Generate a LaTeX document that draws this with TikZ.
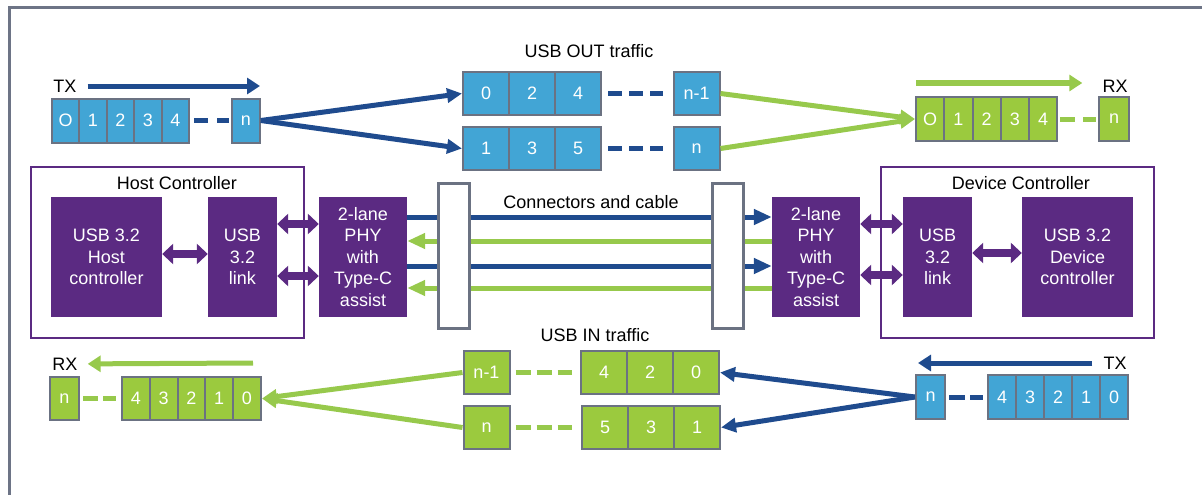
\documentclass[tikz,border=0pt]{standalone}
\usepackage{fontspec}
\setmainfont{Liberation Sans}
\usetikzlibrary{arrows.meta}

\definecolor{cellblue}{HTML}{42A5D5}
\definecolor{cellgreen}{HTML}{9BCA3E}
\definecolor{cellgray}{HTML}{6B7282}
\definecolor{linkblue}{HTML}{1F4B8E}
\definecolor{linkgreen}{HTML}{97C94C}
\definecolor{usbpurple}{HTML}{5B2A82}
\definecolor{framegray}{HTML}{6D7486}

\begin{document}
\begin{tikzpicture}[x=1pt, y=-1pt,
    txt/.style={font=\fontsize{18}{21.5}\selectfont, inner sep=0pt},
    cell/.style={txt, draw=cellgray, line width=2pt, text=white},
    bcell/.style={cell, fill=cellblue},
    gcell/.style={cell, fill=cellgreen},
    small/.style={minimum width=27.5pt, minimum height=44pt},
    wide/.style={minimum width=46pt, minimum height=43pt},
    pbox/.style={txt, fill=usbpurple, text=white, align=center, minimum height=120pt},
    ctrl/.style={draw=usbpurple, line width=2pt},
    plug/.style={draw=cellgray, line width=3pt, fill=white},
    bline/.style={draw=linkblue, line width=5pt},
    gline/.style={draw=linkgreen, line width=5pt},
    bdash/.style={bline, dash pattern=on 14pt off 7pt},
    gdash/.style={gline, dash pattern=on 14pt off 7pt},
    tip/.style={-{Triangle[length=15pt,width=14pt]}},
    dbl/.style={usbpurple, line width=8pt,
        {Triangle[length=11pt,width=20pt]}-{Triangle[length=11pt,width=20pt]}}]

    \useasboundingbox (0,0) rectangle (1202,495);
    \draw [framegray, line width=3pt] (9,495) -- (9,7.5) -- (1202,7.5);

    % USB OUT traffic
    \node [txt] (outlbl) at (589,51) {USB OUT traffic};
    \node [txt] (txlbl) at (65,86) {TX};
    \coordinate (txend) at (260,86);
    \draw [bline, -{Triangle[length=13pt,width=16pt]}, shorten <=11pt] (txlbl) -- (txend);
    \foreach \t [count=\i] in {O,1,2,3,4}
        \node [bcell, small] (tx\i) at ({38+27.5*\i},120.5) {\t};
    \node [bcell, small] (txn) at (246,120.5) {n};
    \draw [bdash, dash pattern=on 14pt off 9pt, shorten <=4pt, shorten >=2pt] (tx5.east) -- (txn.west);

    \foreach \t [count=\i] in {0,2,4}
        \node [bcell, wide] (outa\i) at ({440+46*\i},93.5) {\t};
    \node [bcell, wide] (outan) at (696.5,93.5) {n-1};
    \foreach \t [count=\i] in {1,3,5}
        \node [bcell, wide] (outb\i) at ({440+46*\i},148.5) {\t};
    \node [bcell, wide] (outbn) at (696.5,148.5) {n};
    \draw [bdash, shorten <=6pt, shorten >=10pt] (outa3.east) -- (outan.west);
    \draw [bdash, shorten <=6pt, shorten >=10pt] (outb3.east) -- (outbn.west);

    \node [txt] (rxlbl) at (1115,86) {RX};
    \coordinate (rxstart) at (916,83);
    \draw [gline, -{Triangle[length=13pt,width=16pt]}, shorten >=20pt] (rxstart) -- (rxlbl.west |- rxstart);
    \foreach \t [count=\i] in {O,1,2,3,4}
        \node [gcell, small, minimum width=28.2pt] (rx\i) at ({902+28.2*\i},119) {\t};
    \node [gcell, small, minimum width=30pt] (rxn) at (1114,119) {n};
    \draw [gdash, dash pattern=on 15pt off 8pt, shorten <=2pt, shorten >=2pt] (rx5.east) -- (rxn.west);

    \draw [bline, tip] (txn.east) -- (outa1.west);
    \draw [bline, tip] (txn.east) -- (outb1.west);
    \draw [gline, tip] (outan.east) -- (rx1.west);
    \draw [gline, tip] (outbn.east) -- (rx1.west);

    % host and device side
    \draw [ctrl] (31,167) rectangle (304,338);
    \draw [ctrl] (881,167) rectangle (1154,338);
    \node [txt] (hostlbl) at (177,183) {Host Controller};
    \node [txt] (devlbl) at (1021,183) {Device Controller};

    \node [pbox, minimum width=111pt] (hostctl) at (106.5,257) {USB 3.2\\Host\\controller};
    \node [pbox, minimum width=69pt] (hostlink) at (242.5,257) {USB\\3.2\\link};
    \node [pbox, minimum width=88pt] (hostphy) at (363,257) {2-lane\\PHY\\with\\Type-C\\assist};
    \node [pbox, minimum width=88pt] (devphy) at (816,257) {2-lane\\PHY\\with\\Type-C\\assist};
    \node [pbox, minimum width=69pt] (devlink) at (937.5,257) {USB\\3.2\\link};
    \node [pbox, minimum width=111pt] (devctl) at (1077.5,257) {USB 3.2\\Device\\controller};

    \draw [dbl] ([yshift=3pt]hostctl.east) -- ([yshift=3pt]hostlink.west);
    \draw [dbl] ([yshift=33pt]hostlink.east) -- ([yshift=33pt]hostphy.west);
    \draw [dbl] ([yshift=-19pt]hostlink.east) -- ([yshift=-19pt]hostphy.west);
    \draw [dbl] ([yshift=33pt]devphy.east) -- ([yshift=33pt]devlink.west);
    \draw [dbl] ([yshift=-18pt]devphy.east) -- ([yshift=-18pt]devlink.west);
    \draw [dbl] ([yshift=4pt]devlink.east) -- ([yshift=4pt]devctl.west);

    % connectors and cable
    \draw [bline, -{Triangle[length=18pt,width=15pt]}] ([yshift=40pt]hostphy.east) -- ([yshift=40pt]devphy.west);
    \draw [gline, -{Triangle[length=18pt,width=15pt]}] ([yshift=16pt]devphy.west) -- ([yshift=16pt]hostphy.east);
    \draw [bline, -{Triangle[length=18pt,width=15pt]}] ([yshift=-9pt]hostphy.east) -- ([yshift=-9pt]devphy.west);
    \draw [gline, -{Triangle[length=18pt,width=15pt]}] ([yshift=-31pt]devphy.west) -- ([yshift=-31pt]hostphy.east);
    \node [plug, minimum width=31pt, minimum height=145pt] (lplug) at (453.5,255.5) {};
    \node [plug, minimum width=31pt, minimum height=145pt] (rplug) at (727.5,255.5) {};
    \node [txt] (cablelbl) at (591,202) {Connectors and cable};

    % USB IN traffic
    \node [txt] (inlbl) at (595,335) {USB IN traffic};
    \node [txt] (rxblbl) at (65,364) {RX};
    \coordinate (rxbstart) at (253,363);
    \draw [gline, -{Triangle[length=13pt,width=16pt]}, shorten >=10pt] (rxbstart) -- (rxblbl);
    \node [gcell, small, minimum width=29pt, minimum height=43pt] (rxbn) at (64.5,398.5) {n};
    \foreach \t [count=\i] in {4,3,2,1,0}
        \node [gcell, small, minimum width=27.8pt, minimum height=43pt] (rxb\i) at ({108+27.8*\i},398.5) {\t};
    \draw [gdash, dash pattern=on 15pt off 5pt, shorten <=3pt, shorten >=5pt] (rxbn.east) -- (rxb1.west);

    \node [gcell, wide] (inan) at (486.5,372.5) {n-1};
    \foreach \t [count=\i] in {4,2,0}
        \node [gcell, wide] (ina\i) at ({558+46*\i},372.5) {\t};
    \node [gcell, wide] (inbn) at (486.5,427.5) {n};
    \foreach \t [count=\i] in {5,3,1}
        \node [gcell, wide] (inb\i) at ({559+46*\i},427.5) {\t};
    \draw [gdash, dash pattern=on 15pt off 6pt, shorten <=5pt, shorten >=8pt] (inan.east) -- (ina1.west);
    \draw [gdash, dash pattern=on 15pt off 6pt, shorten <=5pt, shorten >=9pt] (inbn.east) -- (inb1.west);

    \node [txt] (txblbl) at (1115,363) {TX};
    \coordinate (txbend) at (918,363);
    \draw [bline, -{Triangle[length=13pt,width=16pt]}, shorten <=11pt] (txblbl) -- (txbend);
    \node [bcell, small, minimum width=29pt] (txbn) at (930.5,397) {n};
    \foreach \t [count=\i] in {4,3,2,1,0}
        \node [bcell, small, minimum width=28pt] (txb\i) at ({974+28*\i},397) {\t};
    \draw [bdash, dash pattern=on 16pt off 5pt, shorten <=3pt, shorten >=4pt] (txbn.east) -- (txb1.west);

    \draw [bline, tip] (txbn.west) -- (ina3.east);
    \draw [bline, tip] (txbn.west) -- (inb3.east);
    \draw [gline, tip] (inan.west) -- (rxb5.east);
    \draw [gline, tip] (inbn.west) -- (rxb5.east);
\end{tikzpicture}
\end{document}
